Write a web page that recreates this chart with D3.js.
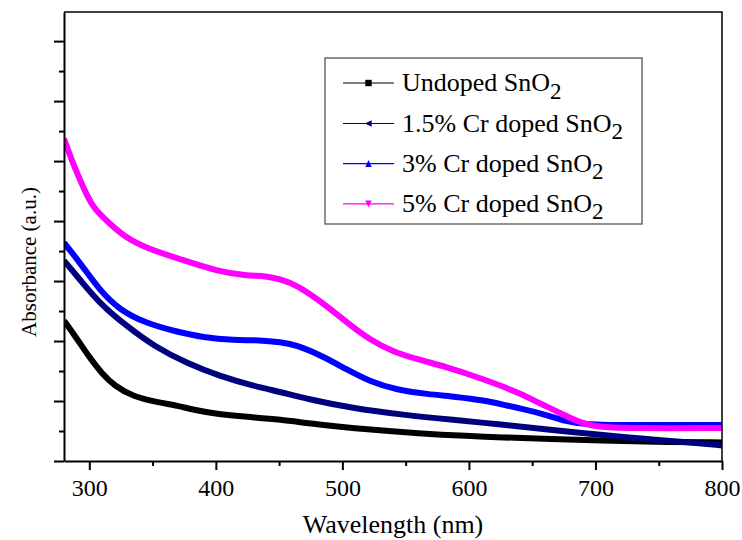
<!DOCTYPE html>
<html>
<head>
<meta charset="utf-8">
<script src="https://cdn.jsdelivr.net/npm/d3@7"></script>
<style>
  html, body { margin: 0; padding: 0; background: #fff; }
  svg { display: block; }
</style>
</head>
<body>
<svg id="chart" width="742" height="540"></svg>
<script>
// ---- data ----
const seriesNames = ["Undoped SnO", "1.5% Cr doped SnO", "3% Cr doped SnO", "5% Cr doped SnO"];
const seriesColors = ["#000000", "#00007f", "#0000ff", "#ff00ff"];
const seriesMarkers = ["square", "triLeft", "triUp", "triDown"];

const wlUndoped = [280, 290, 300, 310, 320, 335, 355, 370, 382, 400, 425, 450, 480, 520, 560, 600, 625, 665, 705, 745, 800];
const absUndoped = [0.468, 0.409, 0.346, 0.291, 0.250, 0.214, 0.195, 0.184, 0.171, 0.157, 0.147, 0.139, 0.122, 0.105, 0.092, 0.083, 0.079, 0.073, 0.068, 0.064, 0.062];

const wlCr15 = [280, 293, 308, 330, 351, 377, 403, 430, 451, 474, 509, 548, 588, 625, 664, 704, 743, 783, 800];
const absCr15 = [0.668, 0.603, 0.526, 0.448, 0.383, 0.326, 0.283, 0.250, 0.230, 0.205, 0.175, 0.154, 0.137, 0.122, 0.104, 0.087, 0.072, 0.059, 0.052];

const wlCr3 = [280, 293, 308, 324, 345, 369, 390, 414, 435, 451, 464, 485, 503, 522, 543, 567, 590, 611, 632, 640, 659, 677, 693, 710, 730, 800];
const absCr3 = [0.728, 0.659, 0.570, 0.503, 0.459, 0.431, 0.412, 0.403, 0.403, 0.396, 0.387, 0.348, 0.306, 0.264, 0.237, 0.223, 0.214, 0.203, 0.183, 0.176, 0.157, 0.131, 0.122, 0.120, 0.120, 0.120];

const wlCr5 = [280, 287, 295, 303, 316, 327, 345, 374, 401, 424, 440, 451, 464, 485, 503, 522, 540, 561, 582, 606, 627, 640, 656, 672, 688, 704, 730, 800];
const absCr5 = [1.075, 0.992, 0.914, 0.842, 0.792, 0.750, 0.709, 0.670, 0.633, 0.618, 0.617, 0.606, 0.587, 0.526, 0.464, 0.403, 0.364, 0.337, 0.314, 0.281, 0.248, 0.226, 0.192, 0.161, 0.126, 0.112, 0.109, 0.110];

const xMajorTicks = [300, 400, 500, 600, 700, 800];
const xMinorTicks = [350, 450, 550, 650, 750];
const yMajorTicks = [0, 0.2, 0.4, 0.6, 0.8, 1.0, 1.2, 1.4];
const yMinorTicks = [0.1, 0.3, 0.5, 0.7, 0.9, 1.1, 1.3];

const xTitle = "Wavelength (nm)";
const yTitle = "Absorbance (a.u.)";

const FONT = "'Liberation Serif', 'Times New Roman', Times, 'DejaVu Serif', serif";

// ---- layout ----
const svg = d3.select("#chart");
const plot = { left: 64, right: 722, top: 12, bottom: 461 };

const x = d3.scaleLinear().domain([280, 800]).range([plot.left, plot.right]);
const y = d3.scaleLinear().domain([0, 1.497]).range([plot.bottom, plot.top]);

const series = [
  { wl: wlUndoped, v: absUndoped },
  { wl: wlCr15, v: absCr15 },
  { wl: wlCr3, v: absCr3 },
  { wl: wlCr5, v: absCr5 }
].map((s, i) => ({
  name: seriesNames[i], color: seriesColors[i], marker: seriesMarkers[i],
  points: s.wl.map((w, j) => ({ w, v: s.v[j] }))
}));

// curves
const line = d3.line().x(d => x(d.w)).y(d => y(d.v)).curve(d3.curveBasis);
svg.append("clipPath").attr("id", "clip").append("rect")
  .attr("x", plot.left).attr("y", plot.top)
  .attr("width", plot.right - plot.left).attr("height", plot.bottom - plot.top);

svg.append("g").attr("clip-path", "url(#clip)")
  .selectAll("path").data(series).join("path")
  .attr("d", d => line(d.points))
  .attr("fill", "none")
  .attr("stroke", d => d.color)
  .attr("stroke-width", 6)
  .attr("stroke-linejoin", "round");

// frame (top and right)
svg.append("path")
  .attr("d", `M${plot.left},${plot.top}H${plot.right}V${plot.bottom}`)
  .attr("fill", "none").attr("stroke", "#000").attr("stroke-width", 1.5);

// x axis
const xAxisG = svg.append("g").attr("transform", `translate(0,${plot.bottom})`);
xAxisG.call(d3.axisBottom(x).tickValues(xMajorTicks).tickSize(9).tickSizeOuter(0).tickPadding(9).tickFormat(d3.format("d")));
xAxisG.append("g").call(d3.axisBottom(x).tickValues(xMinorTicks).tickSize(5).tickFormat("")).select(".domain").remove();
xAxisG.selectAll(".domain").attr("stroke-width", 2);
xAxisG.selectAll(".tick line").attr("stroke-width", 2);
xAxisG.attr("font-family", FONT).attr("font-size", 24);
xAxisG.selectAll(".tick text").attr("font-family", FONT).attr("font-size", 24).attr("fill", "#000");

// y axis
const yAxisG = svg.append("g").attr("transform", `translate(${plot.left},0)`);
yAxisG.call(d3.axisLeft(y).tickValues(yMajorTicks).tickSize(10).tickSizeOuter(0).tickFormat(""));
yAxisG.append("g").call(d3.axisLeft(y).tickValues(yMinorTicks).tickSize(5).tickFormat("")).select(".domain").remove();
yAxisG.selectAll(".domain").attr("stroke-width", 2);
yAxisG.selectAll(".tick line").attr("stroke-width", 2);

// axis titles
svg.append("text").attr("x", 393).attr("y", 533).attr("text-anchor", "middle")
  .attr("font-family", FONT).attr("font-size", 26).text(xTitle);
svg.append("text").attr("transform", "translate(36,262) rotate(-90)").attr("text-anchor", "middle")
  .attr("font-family", FONT).attr("font-size", 21).text(yTitle);

// legend
const legend = svg.append("g").attr("font-family", FONT);
legend.append("rect").attr("x", 325).attr("y", 58).attr("width", 317).attr("height", 166)
  .attr("fill", "#fff").attr("stroke", "#555").attr("stroke-width", 1.3);

const rowBase = [91, 131.5, 171.7, 211.8];
const markerPath = (type, cx, cy) => {
  const s = 3.2;
  if (type === "square") return `M${cx - s},${cy - s}h${2 * s}v${2 * s}h${-2 * s}Z`;
  if (type === "triLeft") return `M${cx - s - 0.5},${cy}L${cx + s},${cy - s}L${cx + s},${cy + s}Z`;
  if (type === "triUp") return `M${cx},${cy - s - 0.5}L${cx + s},${cy + s}L${cx - s},${cy + s}Z`;
  return `M${cx - s},${cy - s}L${cx + s},${cy - s}L${cx},${cy + s + 0.5}Z`;
};
series.forEach((s, i) => {
  const ly = rowBase[i] - 8;
  legend.append("line").attr("x1", 343).attr("x2", 394).attr("y1", ly).attr("y2", ly)
    .attr("stroke", s.color).attr("stroke-width", 1.2);
  legend.append("path").attr("d", markerPath(s.marker, 368.5, ly)).attr("fill", s.color);
  const t = legend.append("text").attr("x", 402).attr("y", rowBase[i]).attr("font-size", 26);
  t.append("tspan").text(s.name);
  t.append("tspan").attr("dy", 7.5).attr("font-size", 23).text("2");
});
</script>
</body>
</html>
